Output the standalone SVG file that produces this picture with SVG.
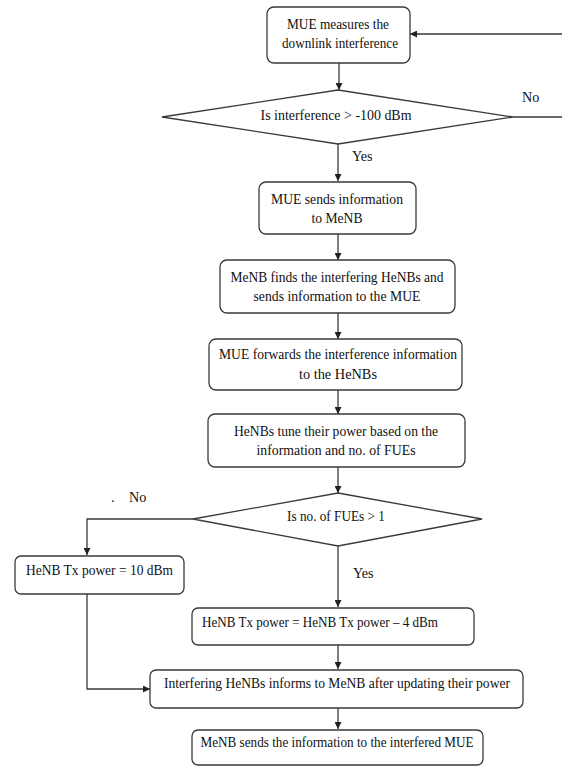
<svg xmlns="http://www.w3.org/2000/svg" width="562" height="766" viewBox="0 0 562 766">
<style>
.box{fill:#fff;stroke:#3a3a3a;stroke-width:1.3}
.t{font-family:"Liberation Serif","Times New Roman",serif;font-size:14.2px;fill:#111;text-anchor:middle}
.ts{font-family:"Liberation Serif","Times New Roman",serif;font-size:14.2px;fill:#111}
.c{fill:none;stroke:#3a3a3a;stroke-width:1.3}
</style>
<defs>
<marker id="ah" viewBox="0 0 10 10" refX="10" refY="5" markerWidth="7" markerHeight="7" markerUnits="userSpaceOnUse" orient="auto">
<path d="M0,0 L10,5 L0,10 z" fill="#222"/>
</marker>
</defs>
<rect width="562" height="766" fill="#fff"/>
<g id="connectors">
<path class="c" d="M339,63 V90" marker-end="url(#ah)"/>
<path class="c" d="M513,117 H563 V34 H410" marker-end="url(#ah)"/>
<path class="c" d="M338,144 V181" marker-end="url(#ah)"/>
<path class="c" d="M338,234 V260" marker-end="url(#ah)"/>
<path class="c" d="M338,313 V339" marker-end="url(#ah)"/>
<path class="c" d="M338,390 V414" marker-end="url(#ah)"/>
<path class="c" d="M338,467 V493" marker-end="url(#ah)"/>
<path class="c" d="M193,519 H87 V555" marker-end="url(#ah)"/>
<path class="c" d="M87,594 V689 H150" marker-end="url(#ah)"/>
<path class="c" d="M338,546 V607" marker-end="url(#ah)"/>
<path class="c" d="M338,645 V669" marker-end="url(#ah)"/>
<path class="c" d="M338,708 V729" marker-end="url(#ah)"/>
<text class="ts" x="522" y="102">No</text>
<text class="ts" x="352" y="161">Yes</text>
<text class="ts" x="111" y="502">.</text>
<text class="ts" x="129" y="502">No</text>
<text class="ts" x="353" y="578">Yes</text>
</g>
<g id="n1">
<rect class="box" x="267" y="7" width="143" height="56" rx="7"/>
<text class="t" x="338" y="29" textLength="102" lengthAdjust="spacingAndGlyphs">MUE measures the</text>
<text class="t" x="340" y="48" textLength="116" lengthAdjust="spacingAndGlyphs">downlink interference</text>
</g>
<g id="d1">
<polygon class="box" points="338,90 513,117 338,144 162,117"/>
<text class="t" x="336" y="120" textLength="151" lengthAdjust="spacingAndGlyphs">Is interference &gt; -100 dBm</text>
</g>
<g id="n2">
<rect class="box" x="259" y="182" width="157" height="52" rx="7"/>
<text class="t" x="337" y="204" textLength="132" lengthAdjust="spacingAndGlyphs">MUE sends information</text>
<text class="t" x="337" y="223" textLength="51" lengthAdjust="spacingAndGlyphs">to MeNB</text>
</g>
<g id="n3">
<rect class="box" x="220" y="260" width="235" height="53" rx="7"/>
<text class="t" x="337" y="282" textLength="213" lengthAdjust="spacingAndGlyphs">MeNB finds the interfering HeNBs and</text>
<text class="t" x="337" y="301" textLength="167" lengthAdjust="spacingAndGlyphs">sends information to the MUE</text>
</g>
<g id="n4">
<rect class="box" x="209" y="339" width="253" height="51" rx="7"/>
<text class="t" x="338" y="359" textLength="238" lengthAdjust="spacingAndGlyphs">MUE forwards the interference information</text>
<text class="t" x="338" y="379" textLength="78" lengthAdjust="spacingAndGlyphs">to the HeNBs</text>
</g>
<g id="n5">
<rect class="box" x="208" y="414" width="257" height="53" rx="7"/>
<text class="t" x="336" y="436" textLength="204" lengthAdjust="spacingAndGlyphs">HeNBs tune their power based on the</text>
<text class="t" x="336" y="455" textLength="159" lengthAdjust="spacingAndGlyphs">information and no. of FUEs</text>
</g>
<g id="d2">
<polygon class="box" points="338,493 482,519 338,546 193,519"/>
<text class="t" x="336" y="521" textLength="98" lengthAdjust="spacingAndGlyphs">Is no. of FUEs &gt; 1</text>
</g>
<g id="n6">
<rect class="box" x="15" y="556" width="169" height="38" rx="6"/>
<text class="ts" x="26" y="575" textLength="147" lengthAdjust="spacingAndGlyphs">HeNB Tx power = 10 dBm</text>
</g>
<g id="n7">
<rect class="box" x="192" y="608" width="282" height="37" rx="6"/>
<text class="ts" x="202" y="627" textLength="236" lengthAdjust="spacingAndGlyphs">HeNB Tx power = HeNB Tx power – 4 dBm</text>
</g>
<g id="n8">
<rect class="box" x="150" y="670" width="373" height="38" rx="6"/>
<text class="t" x="337" y="688" textLength="346" lengthAdjust="spacingAndGlyphs">Interfering HeNBs informs to MeNB after updating their power</text>
</g>
<g id="n9">
<rect class="box" x="192" y="730" width="291" height="35" rx="6"/>
<text class="t" x="337" y="747" textLength="273" lengthAdjust="spacingAndGlyphs">MeNB sends the information to the interfered MUE</text>
</g>
</svg>
